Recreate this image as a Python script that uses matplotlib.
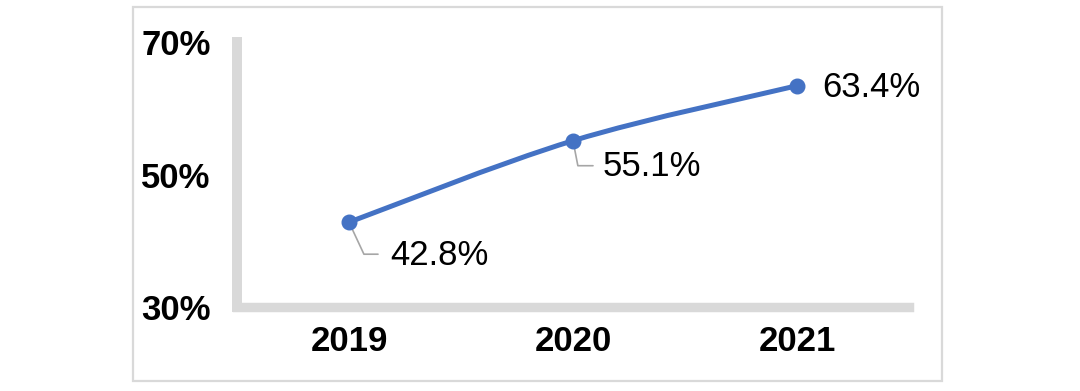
import matplotlib
matplotlib.use("Agg")
import matplotlib.pyplot as plt
from matplotlib.path import Path
from matplotlib.patches import PathPatch, Rectangle
import numpy as np

plt.rcParams['font.family'] = ['Liberation Sans', 'DejaVu Sans']

years = ["2019", "2020", "2021"]
values = [42.8, 55.1, 63.4]
value_labels = ["42.8%", "55.1%", "63.4%"]
yticks = [30, 50, 70]
ytick_labels = ["30%", "50%", "70%"]

W, H, DPI = 1080, 391, 100
fig = plt.figure(figsize=(W / DPI, H / DPI), dpi=DPI)
fig.patch.set_facecolor("white")

# outer border box
fig.add_artist(Rectangle((133 / W, 1 - 381 / H), (942 - 133) / W, (381 - 7) / H,
                         transform=fig.transFigure, fill=False,
                         edgecolor="#D9D9D9", linewidth=1.6))

ax = fig.add_axes([237 / W, 1 - 307 / H, (909 - 237) / W, (307 - 42) / H])
ax.set_xlim(-0.5, 2.5)
ax.set_ylim(30, 70)

x = np.arange(len(values))
blue = "#4472C4"

# smoothed line (Excel-like bezier through the points)
pts = list(zip(x, values))
verts = [pts[0]]
codes = [Path.MOVETO]
for i in range(len(pts) - 1):
    p0 = pts[i - 1] if i > 0 else pts[i]
    p1 = pts[i]
    p2 = pts[i + 1]
    p3 = pts[i + 2] if i + 2 < len(pts) else pts[i + 1]
    c1 = (p1[0] + (p2[0] - p0[0]) / 6, p1[1] + (p2[1] - p0[1]) / 6)
    c2 = (p2[0] - (p3[0] - p1[0]) / 6, p2[1] - (p3[1] - p1[1]) / 6)
    verts += [c1, c2, p2]
    codes += [Path.CURVE4] * 3
ax.add_patch(PathPatch(Path(verts, codes), facecolor="none", edgecolor=blue,
                       linewidth=3.6, capstyle="round", zorder=3))
ax.plot(x, values, linestyle="none", marker="o", markersize=10.5,
        color=blue, zorder=4)

# spines
for s in ["top", "right"]:
    ax.spines[s].set_visible(False)
ax.spines["left"].set_color("#D9D9D9")
ax.spines["left"].set_linewidth(7.2)
ax.spines["bottom"].set_color("#D9D9D9")
ax.spines["bottom"].set_linewidth(6.8)
for s in ["left", "bottom"]:
    ax.spines[s].set_capstyle("projecting")

ax.set_yticks(yticks)
ax.set_yticklabels(ytick_labels)
ax.set_xticks(x)
ax.set_xticklabels(years)
ax.tick_params(axis="both", length=0, labelsize=25)
ax.tick_params(axis="y", pad=19)
ax.tick_params(axis="x", pad=13)
for lab in ax.get_xticklabels() + ax.get_yticklabels():
    lab.set_fontweight("bold")
    lab.set_color("black")

# data labels
label_offsets = [(41, -33), (30, -26), (25, -2)]
leader_ends = [(29, -32), (20, -25), None]
leader_angles = [-65, -79, None]
for i, (v, lab) in enumerate(zip(values, value_labels)):
    ax.annotate(lab, xy=(i, v), xytext=label_offsets[i], textcoords="offset pixels",
                ha="left", va="center", fontsize=25, color="black", zorder=5)
    if leader_ends[i] is not None:
        ax.annotate("", xy=(i, v), xytext=leader_ends[i], textcoords="offset pixels",
                    arrowprops=dict(arrowstyle="-", color="#A6A6A6", linewidth=1.2,
                                    shrinkA=0, shrinkB=0,
                                    connectionstyle=f"angle,angleA=0,angleB={leader_angles[i]},rad=0"),
                    zorder=2)

fig.savefig("out.png", dpi=DPI, facecolor="white")
